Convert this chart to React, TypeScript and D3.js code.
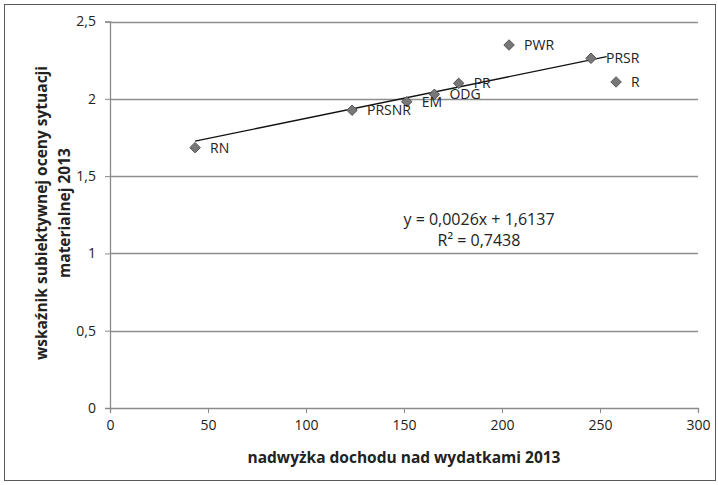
import * as d3 from "d3";
import { useEffect, useRef } from "react";

// data
const labels = ["RN", "PRSNR", "EM", "ODG", "PR", "PWR", "PRSR", "R"];
const surplus = [43.4, 123.5, 151.4, 165.5, 177.9, 203.6, 245.4, 258.2];
const rating = [1.684, 1.926, 1.981, 2.029, 2.1, 2.348, 2.262, 2.109];
const xTicks = [0, 50, 100, 150, 200, 250, 300];
const yTicks = [0, 0.5, 1, 1.5, 2, 2.5];
// linear trendline y = a*x + b, drawn over this x range
const trendCoef = [0.0026, 1.6137];
const trendRange = [43.4, 253.4];
const equationLines = ["y = 0,0026x + 1,6137", "R² = 0,7438"];

const width = 718;
const height = 485;
const font = "'Open Sans', 'Noto Sans', sans-serif";

const fmt = (v: number) => String(v).replace(".", ",");

export default function App() {
  const ref = useRef(null);

  useEffect(() => {
    if (!ref.current) return;
    const svg = d3.select(ref.current);
    svg.selectAll("*").remove();

    const x = d3.scaleLinear().domain([0, 300]).range([110, 698]);
    const y = d3.scaleLinear().domain([0, 2.5]).range([408, 21.5]);

    // outer chart border
    svg
      .append("rect")
      .attr("x", 4.5)
      .attr("y", 4.5)
      .attr("width", 711)
      .attr("height", 476)
      .attr("fill", "white")
      .attr("stroke", "#5a5a5a")
      .attr("stroke-width", 1);

    // horizontal gridlines
    svg
      .append("g")
      .selectAll("line")
      .data(yTicks.filter((t) => t > 0))
      .join("line")
      .attr("x1", x(0))
      .attr("x2", x(300))
      .attr("y1", (d) => Math.round(y(d)) + 0.5)
      .attr("y2", (d) => Math.round(y(d)) + 0.5)
      .attr("stroke", "#8e8e8e")
      .attr("stroke-width", 1.3);

    // y axis
    const yAxis = svg
      .append("g")
      .attr("transform", `translate(${x(0)},0)`)
      .call(
        d3
          .axisLeft(y)
          .tickValues(yTicks)
          .tickSize(5)
          .tickPadding(9)
          .tickFormat((d: any) => fmt(d))
      );
    yAxis.select(".domain").attr("stroke", "#8a8a8a").attr("stroke-width", 1.3);
    yAxis.selectAll(".tick line").attr("stroke", "#8a8a8a");
    yAxis
      .selectAll(".tick text")
      .attr("fill", "#222")
      .style("font-family", font)
      .style("font-size", "14px");

    // x axis
    const xAxis = svg
      .append("g")
      .attr("transform", `translate(0,${y(0)})`)
      .call(
        d3
          .axisBottom(x)
          .tickValues(xTicks)
          .tickSize(5)
          .tickPadding(7)
          .tickFormat((d: any) => fmt(d))
      );
    xAxis.select(".domain").attr("stroke", "#8a8a8a").attr("stroke-width", 1.3);
    xAxis.selectAll(".tick line").attr("stroke", "#8a8a8a");
    xAxis
      .selectAll(".tick text")
      .attr("fill", "#222")
      .style("font-family", font)
      .style("font-size", "14px");

    // trendline
    svg
      .append("line")
      .attr("x1", x(trendRange[0]))
      .attr("y1", y(trendCoef[0] * trendRange[0] + trendCoef[1]))
      .attr("x2", x(trendRange[1]))
      .attr("y2", y(trendCoef[0] * trendRange[1] + trendCoef[1]))
      .attr("stroke", "#111")
      .attr("stroke-width", 1.3);

    const points = labels.map((l, i) => ({ label: l, x: surplus[i], y: rating[i] }));

    // diamond markers
    const diamond = d3.symbol().type(d3.symbolDiamond2).size(70);
    svg
      .append("g")
      .selectAll("path")
      .data(points)
      .join("path")
      .attr("d", diamond as any)
      .attr("transform", (d) => `translate(${x(d.x)},${y(d.y)})`)
      .attr("fill", "#777777")
      .attr("stroke", "#555555")
      .attr("stroke-width", 1);

    // point labels
    svg
      .append("g")
      .selectAll("text")
      .data(points)
      .join("text")
      .attr("x", (d) => x(d.x) + 15)
      .attr("y", (d) => y(d.y))
      .attr("dy", "0.36em")
      .text((d) => d.label)
      .attr("fill", "#222")
      .style("font-family", font)
      .style("font-size", "14px");

    // regression equation
    svg
      .append("g")
      .selectAll("text")
      .data(equationLines)
      .join("text")
      .attr("x", 479)
      .attr("y", (d, i) => 225 + i * 21)
      .attr("text-anchor", "middle")
      .text((d) => d)
      .attr("fill", "#222")
      .style("font-family", font)
      .style("font-size", "16px");

    // axis titles
    svg
      .append("text")
      .attr("x", 404)
      .attr("y", 463)
      .attr("text-anchor", "middle")
      .text("nadwyżka dochodu nad wydatkami 2013")
      .attr("fill", "#222")
      .style("font-family", font)
      .style("font-weight", "bold")
      .style("font-size", "15.5px");

    svg
      .append("g")
      .attr("transform", "translate(53,213) rotate(-90)")
      .selectAll("text")
      .data(["wskaźnik subiektywnej oceny sytuacji", "materialnej 2013"])
      .join("text")
      .attr("x", 0)
      .attr("y", (d, i) => -11 + i * 23)
      .attr("dy", "0.35em")
      .attr("text-anchor", "middle")
      .text((d) => d)
      .attr("fill", "#222")
      .style("font-family", font)
      .style("font-weight", "bold")
      .style("font-size", "15.5px");
  }, []);

  return (
    <svg
      ref={ref}
      width={width}
      height={height}
      style={{ position: "absolute", left: 0, top: 0, background: "white" }}
    />
  );
}
